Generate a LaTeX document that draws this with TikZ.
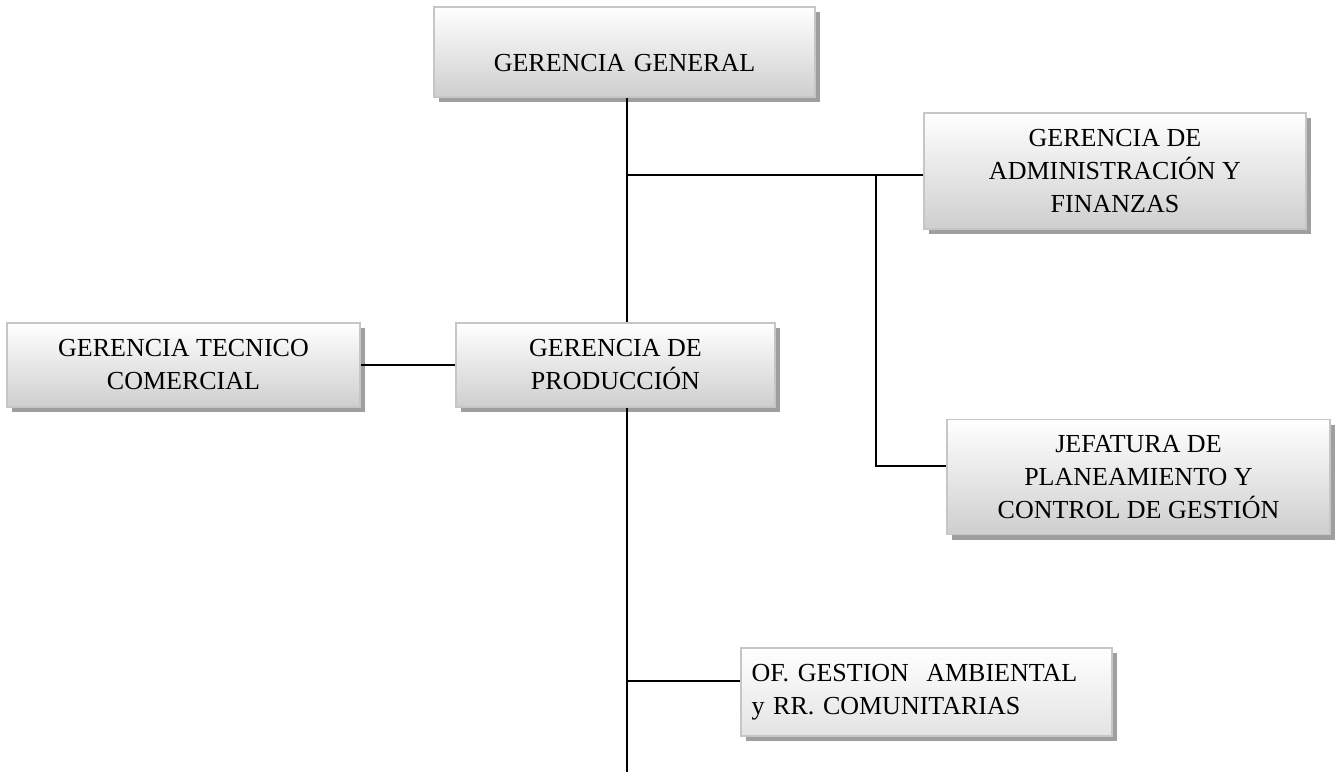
\documentclass[tikz,border=0pt]{standalone}
\usepackage{fontspec}
\setmainfont{Liberation Serif}
\usetikzlibrary{shadows}
\begin{document}
\begin{tikzpicture}[x=1pt,y=-1pt,
  unit/.style={draw=gray!45, line width=1.2pt, top color=white, bottom color=gray!38,
    drop shadow={shadow xshift=5pt, shadow yshift=-5pt, fill=gray!75, opacity=1},
    inner sep=0pt, align=center, font=\fontsize{26}{33}\selectfont},
  conn/.style={line width=1.8pt, black}]
\useasboundingbox (0,0) rectangle (1338,772);
\node[unit, minimum width=381pt, text height=64pt, text depth=26pt, text width=381pt] (gg) at (624.5,52) {GERENCIA GENERAL};
\node[unit, minimum width=382pt, minimum height=116pt] (adm) at (1115,171) {GERENCIA DE\\ADMINISTRACIÓN Y\\FINANZAS};
\node[unit, minimum width=383pt, minimum height=115pt] (jef) at (1138.5,477) {JEFATURA DE\\PLANEAMIENTO Y\\CONTROL DE GESTIÓN};
\node[unit, minimum width=319pt, minimum height=84pt] (prod) at (615.5,365) {GERENCIA DE\\PRODUCCIÓN};
\node[unit, minimum width=353pt, minimum height=84pt] (tec) at (183.5,365) {GERENCIA TECNICO\\COMERCIAL};
\node[unit, minimum width=371pt, minimum height=88pt, top color=white, bottom color=gray!22, align=left, text width=350pt] (of) at (926.5,692) {OF. GESTION~~AMBIENTAL\\y RR. COMUNITARIAS};
\coordinate (t1) at (627,175);
\coordinate (t2) at (876,175);
\coordinate (t3) at (876,466);
\coordinate (t4) at (627,681);
\coordinate (bot) at (627,772);
\draw[conn] (t1 |- gg.south) -- (t1 |- prod.north);
\draw[conn] (t1) -- (t1 -| adm.west);
\draw[conn] (t2) -- (t3) -- (t3 -| jef.west);
\draw[conn] (tec.east) -- (prod.west);
\draw[conn] (t4 |- prod.south) -- (bot);
\draw[conn] (t4) -- (t4 -| of.west);
\end{tikzpicture}
\end{document}
